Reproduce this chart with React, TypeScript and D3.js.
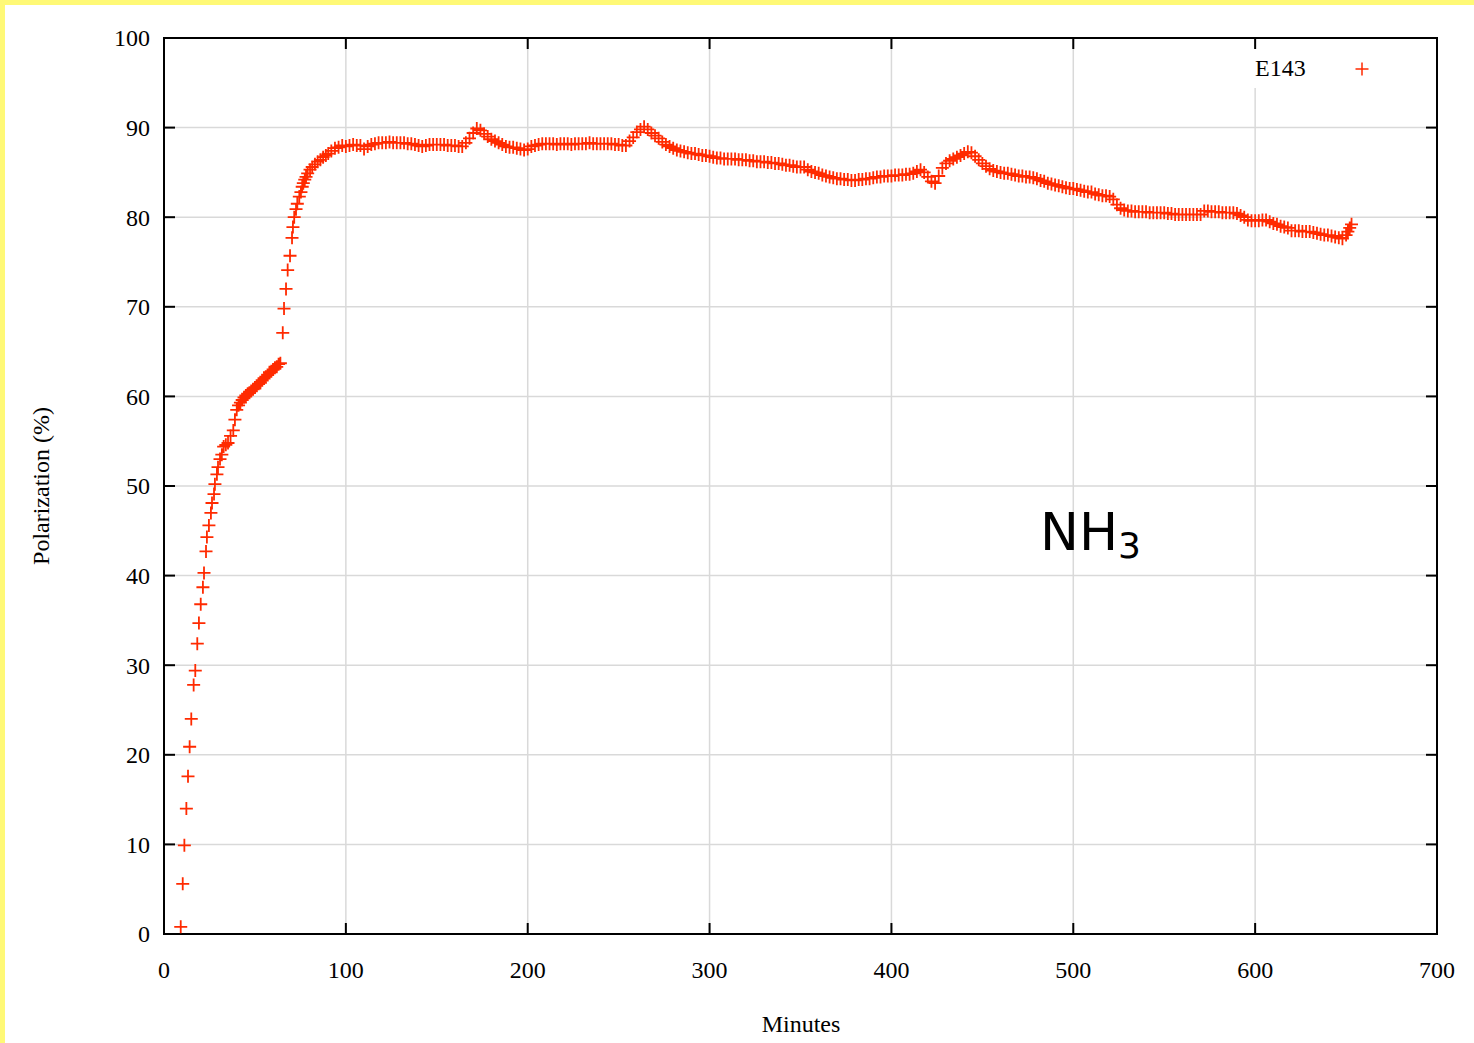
import React from 'react';
import * as d3 from 'd3';

const xTicks = [0, 100, 200, 300, 400, 500, 600, 700];
const yTicks = [0, 10, 20, 30, 40, 50, 60, 70, 80, 90, 100];
const seriesName = 'E143';

// build-up: sparse points while the target polarizes
const riseMinutes = [
  9.2, 10.3, 11.2, 12.3, 13.2, 14.1, 15.0, 16.3, 17.2, 18.3,
  19.2, 20.2, 21.4, 22.0, 23.1, 23.6, 24.7, 25.8, 26.4, 27.5,
  28.0, 29.1, 29.7, 30.8, 31.8, 32.8, 34.0, 35.2, 36.6, 38.1,
  39.0, 40.0, 41, 42, 43, 44, 45, 46, 47, 48,
  49, 50, 51, 52, 53, 54, 55, 56, 57, 58,
  59, 60, 61, 62, 63, 64, 65.3, 66.0, 67.1, 68.0,
  69.3, 70.4, 70.9, 71.6, 72.6, 73.3, 74.4, 75.3, 76.0, 76.6,
  77.4, 78.1, 79.0, 80.3, 81.5, 83.0, 84.5, 86.0, 87.5, 89.0,
  90.3, 92.0, 94.0, 96.0, 98.0, 100.0,
];
const risePct = [
  0.8, 5.6, 9.9, 14.0, 17.6, 20.9, 24.0, 27.8, 29.4, 32.4,
  34.7, 36.8, 38.7, 40.3, 42.7, 44.3, 45.6, 47.0, 48.1, 49.1,
  50.2, 51.3, 52.1, 53.0, 53.5, 54.4, 54.6, 54.8, 55.6, 56.2,
  57.4, 58.5, 59.0, 59.3, 59.6, 59.9, 60.1, 60.3, 60.4, 60.6,
  60.8, 61.0, 61.2, 61.4, 61.5, 61.8, 62.0, 62.2, 62.4, 62.7,
  62.8, 63.0, 63.2, 63.3, 63.6, 63.7, 67.1, 69.8, 72.0, 74.1,
  75.7, 77.7, 78.9, 80.0, 80.9, 81.5, 82.3, 82.8, 83.4, 83.8,
  84.2, 84.5, 84.9, 85.3, 85.6, 85.9, 86.2, 86.4, 86.7, 86.9,
  87.1, 87.4, 87.7, 87.8, 88.0, 87.9,
];

// long plateau and slow decay
const plateauMinutes = [
  102, 104, 106, 108, 110, 112, 114, 116, 118, 120,
  122, 124, 126, 128, 130, 132, 134, 136, 138, 140,
  142, 144, 146, 148, 150, 152, 154, 156, 158, 160,
  162, 164, 166, 168, 170, 172, 174, 176, 178, 180,
  182, 184, 186, 188, 190, 192, 194, 196, 198, 200,
  202, 204, 206, 208, 210, 212, 214, 216, 218, 220,
  222, 224, 226, 228, 230, 232, 234, 236, 238, 240,
  242, 244, 246, 248, 250, 252, 254, 256, 258, 260,
  262, 264, 266, 268, 270, 272, 274, 276, 278, 280,
  282, 284, 286, 288, 290, 292, 294, 296, 298, 300,
  302, 304, 306, 308, 310, 312, 314, 316, 318, 320,
  322, 324, 326, 328, 330, 332, 334, 336, 338, 340,
  342, 344, 346, 348, 350, 352, 354, 356, 358, 360,
  362, 364, 366, 368, 370, 372, 374, 376, 378, 380,
  382, 384, 386, 388, 390, 392, 394, 396, 398, 400,
  402, 404, 406, 408, 410, 412, 414, 416, 418, 420,
  422, 424, 426, 428, 430, 432, 434, 436, 438, 440,
  442, 444, 446, 448, 450, 452, 454, 456, 458, 460,
  462, 464, 466, 468, 470, 472, 474, 476, 478, 480,
  482, 484, 486, 488, 490, 492, 494, 496, 498, 500,
  502, 504, 506, 508, 510, 512, 514, 516, 518, 520,
  522, 524, 526, 528, 530, 532, 534, 536, 538, 540,
  542, 544, 546, 548, 550, 552, 554, 556, 558, 560,
  562, 564, 566, 568, 570, 572, 574, 576, 578, 580,
  582, 584, 586, 588, 590, 592, 594, 596, 598, 600,
  602, 604, 606, 608, 610, 612, 614, 616, 618, 620,
  622, 624, 626, 628, 630, 632, 634, 636, 638, 640,
  642, 644, 646, 648, 650, 651, 652, 653,
];
const plateauPct = [
  88.0, 88.1, 88.0, 88.0, 87.6, 87.9, 88.1, 88.2, 88.3, 88.3,
  88.3, 88.4, 88.3, 88.3, 88.3, 88.3, 88.2, 88.2, 88.1, 88.0,
  87.9, 88.0, 88.1, 88.1, 88.1, 88.1, 88.1, 88.0, 88.0, 88.0,
  87.9, 87.9, 88.3, 88.8, 89.4, 89.9, 89.7, 89.3, 89.0, 88.7,
  88.5, 88.3, 88.1, 87.9, 87.8, 87.8, 87.7, 87.6, 87.5, 87.6,
  87.9, 88.0, 88.1, 88.2, 88.2, 88.2, 88.2, 88.1, 88.2, 88.2,
  88.2, 88.1, 88.2, 88.2, 88.2, 88.2, 88.3, 88.2, 88.2, 88.2,
  88.2, 88.2, 88.2, 88.1, 88.1, 88.0, 88.0, 88.5, 88.9, 89.5,
  89.8, 90.1, 89.8, 89.4, 89.1, 88.8, 88.4, 88.1, 87.9, 87.7,
  87.5, 87.4, 87.3, 87.2, 87.1, 87.1, 87.0, 86.9, 86.9, 86.8,
  86.7, 86.6, 86.6, 86.5, 86.5, 86.5, 86.5, 86.4, 86.4, 86.4,
  86.3, 86.3, 86.2, 86.2, 86.2, 86.1, 86.1, 86.0, 86.0, 85.9,
  85.8, 85.8, 85.7, 85.6, 85.6, 85.6, 85.3, 85.1, 85.0, 84.9,
  84.7, 84.6, 84.5, 84.4, 84.3, 84.3, 84.2, 84.2, 84.1, 84.1,
  84.2, 84.2, 84.3, 84.3, 84.4, 84.5, 84.5, 84.6, 84.6, 84.6,
  84.7, 84.7, 84.7, 84.8, 84.8, 84.9, 85.1, 85.3, 85.0, 84.5,
  84.0, 83.8, 84.6, 85.5, 86.0, 86.3, 86.5, 86.7, 86.9, 87.1,
  87.3, 87.2, 86.8, 86.4, 86.0, 85.7, 85.4, 85.2, 85.1, 85.0,
  84.9, 84.9, 84.8, 84.7, 84.6, 84.6, 84.5, 84.5, 84.4, 84.3,
  84.1, 84.0, 83.8, 83.7, 83.6, 83.5, 83.4, 83.3, 83.2, 83.2,
  83.1, 83.0, 82.9, 82.8, 82.8, 82.6, 82.5, 82.4, 82.4, 82.3,
  82.0, 81.4, 81.0, 80.8, 80.7, 80.7, 80.6, 80.6, 80.6, 80.6,
  80.5, 80.5, 80.5, 80.5, 80.5, 80.4, 80.4, 80.3, 80.3, 80.3,
  80.3, 80.3, 80.3, 80.3, 80.3, 80.7, 80.7, 80.6, 80.6, 80.6,
  80.5, 80.5, 80.5, 80.5, 80.4, 80.2, 80.0, 79.7, 79.6, 79.6,
  79.6, 79.7, 79.7, 79.5, 79.3, 79.2, 79.0, 78.9, 78.8, 78.5,
  78.5, 78.5, 78.4, 78.4, 78.4, 78.3, 78.2, 78.1, 78.0, 78.0,
  77.9, 77.8, 77.7, 77.6, 78.0, 78.4, 78.8, 79.2,
];

const W = 1474;
const H = 1043;
const margin = { left: 164, right: 1437, top: 38, bottom: 934 };
const red = '#ff2a00';
const serif = '"Liberation Serif", "Times New Roman", serif';

export default function App() {
  const x = d3.scaleLinear().domain([0, 700]).range([margin.left, margin.right]);
  const y = d3.scaleLinear().domain([0, 100]).range([margin.bottom, margin.top]);

  const points: [number, number][] = [
    ...riseMinutes.map((t, i) => [t, risePct[i]] as [number, number]),
    ...plateauMinutes.map((t, i) => [t, plateauPct[i]] as [number, number]),
  ];

  const cross = (cx: number, cy: number) => `M${cx - 6.5},${cy}h13M${cx},${cy - 6.5}v13`;
  const dataPath = points.map(([t, p]) => cross(x(t), y(p))).join('');

  const tick = 11;

  return (
    <svg width={W} height={H} style={{ position: 'absolute', left: 0, top: 0, background: '#fff' }}>
      <rect x={0} y={0} width={W} height={H} fill="#fff" />
      {/* yellow page edge */}
      <rect x={0} y={0} width={W} height={5} fill="#fff976" />
      <rect x={0} y={0} width={5} height={H} fill="#fff976" />

      {/* grid */}
      <g stroke="#d9d9d9" strokeWidth={1.5}>
        {xTicks.slice(1, -1).map((t) => (
          <line key={'gx' + t} x1={x(t)} x2={x(t)} y1={margin.top} y2={margin.bottom} />
        ))}
        {yTicks.slice(1, -1).map((t) => (
          <line key={'gy' + t} x1={margin.left} x2={margin.right} y1={y(t)} y2={y(t)} />
        ))}
      </g>

      {/* key area hides grid */}
      <rect x={1240} y={49} width={150} height={39} fill="#fff" />

      {/* ticks on all four sides */}
      <g stroke="#000" strokeWidth={2}>
        {xTicks.map((t) => (
          <g key={'tx' + t}>
            <line x1={x(t)} x2={x(t)} y1={margin.bottom} y2={margin.bottom - tick} />
            <line x1={x(t)} x2={x(t)} y1={margin.top} y2={margin.top + tick} />
          </g>
        ))}
        {yTicks.map((t) => (
          <g key={'ty' + t}>
            <line x1={margin.left} x2={margin.left + tick} y1={y(t)} y2={y(t)} />
            <line x1={margin.right} x2={margin.right - tick} y1={y(t)} y2={y(t)} />
          </g>
        ))}
      </g>

      <rect
        x={margin.left}
        y={margin.top}
        width={margin.right - margin.left}
        height={margin.bottom - margin.top}
        fill="none"
        stroke="#000"
        strokeWidth={2}
      />

      {/* tick labels */}
      <g fontFamily={serif} fontSize={24} fill="#000">
        {yTicks.map((t) => (
          <text key={'ly' + t} x={150} y={y(t)} dy="0.35em" textAnchor="end">
            {t}
          </text>
        ))}
        {xTicks.map((t) => (
          <text key={'lx' + t} x={x(t)} y={978} textAnchor="middle">
            {t}
          </text>
        ))}
        <text x={801} y={1032} textAnchor="middle">Minutes</text>
        <text transform="translate(49,486) rotate(-90)" textAnchor="middle">
          Polarization (%)
        </text>
      </g>

      {/* data */}
      <path d={dataPath} fill="none" stroke={red} strokeWidth={1.8} />

      {/* legend */}
      <text x={1255} y={76} fontFamily={serif} fontSize={24} fill="#000">
        {seriesName}
      </text>
      <path d={cross(1362, 69)} fill="none" stroke={red} strokeWidth={1.5} />

      {/* annotation */}
      <text x={1040} y={550} fontFamily='"DejaVu Sans", sans-serif' fontSize={52} fill="#000">
        NH
        <tspan fontSize={36} dy={8}>3</tspan>
      </text>
    </svg>
  );
}
